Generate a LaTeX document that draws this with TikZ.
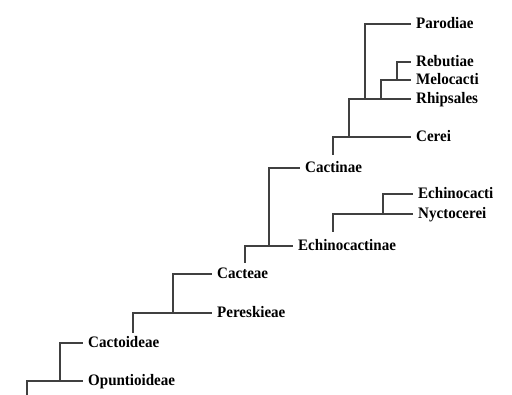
\documentclass[tikz,border=0pt]{standalone}
\usepackage{fontspec}
\setmainfont{Liberation Serif}
\newfontfamily\taxonfont[FakeStretch=0.94]{Liberation Serif}
\usetikzlibrary{positioning}

\begin{document}
\begin{tikzpicture}[
    x=1pt, y=-1pt,
    taxon/.style={anchor=west, inner xsep=5pt, inner ysep=0pt,
        text height=10pt, text depth=0pt,
        font=\taxonfont\fontsize{16}{19}\selectfont\bfseries},
    branch/.style={draw=black!75, line width=1.1pt},
]
\useasboundingbox (0,0) rectangle (512,395);

% --- Taxon labels ---
\node[taxon] (opu) at (83,381) {Opuntioideae};
\node[taxon] (cto) at (83,343) {Cactoideae};
\node[taxon] (per) at (212,313) {Pereskieae};
\node[taxon] (cac) at (212,274) {Cacteae};
\node[taxon] (ech) at (293,246) {Echinocactinae};
\node[taxon] (cti) at (300,168) {Cactinae};
\node[taxon] (nyc) at (413,214) {Nyctocerei};
\node[taxon] (eci) at (413,194) {Echinocacti};
\node[taxon] (cer) at (411,137) {Cerei};
\node[taxon] (rhi) at (411,99) {Rhipsales};
\node[taxon] (mel) at (411,80) {Melocacti};
\node[taxon] (reb) at (411,62) {Rebutiae};
\node[taxon] (par) at (411,24) {Parodiae};

% --- Branch points and stems ---
\coordinate (root) at (27,395);
\coordinate (k1) at (60,381);
\coordinate (s2) at (133,333);
\coordinate (k2) at (173,313);
\coordinate (s3) at (245,263);
\coordinate (k3) at (269,246);
\coordinate (s4) at (333,232);
\coordinate (k4) at (383,214);
\coordinate (s5) at (333,155);
\coordinate (k5) at (349,137);
\coordinate (k6) at (365,99);
\coordinate (k7) at (381,99);
\coordinate (k8) at (397,80);

% --- Branches ---
\draw[branch] (root) |- (opu.west);
\draw[branch] (k1) |- (cto.west);
\draw[branch] (s2) |- (per.west);
\draw[branch] (k2) |- (cac.west);
\draw[branch] (s3) |- (ech.west);
\draw[branch] (k3) |- (cti.west);
\draw[branch] (s4) |- (nyc.west);
\draw[branch] (k4) |- (eci.west);
\draw[branch] (s5) |- (cer.west);
\draw[branch] (k5) |- (rhi.west);
\draw[branch] (k6) |- (par.west);
\draw[branch] (k7) |- (mel.west);
\draw[branch] (k8) |- (reb.west);

\end{tikzpicture}
\end{document}
